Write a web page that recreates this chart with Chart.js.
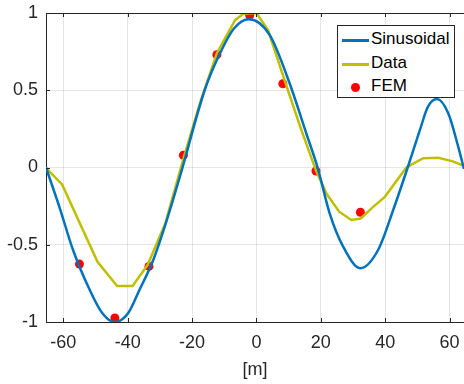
<!DOCTYPE html>
<html>
<head>
<meta charset="utf-8">
<script src="https://cdn.jsdelivr.net/npm/chart.js@4/dist/chart.umd.min.js"></script>
<style>
  html, body { margin: 0; padding: 0; background: #fff; }
  #wrap { position: relative; width: 464px; height: 384px; }
  #legend {
    position: absolute; left: 337px; top: 25px; width: 118px; height: 73px;
    background: #fff; border: 1px solid #262626; box-sizing: border-box;
    font-family: "Liberation Sans", Arial, sans-serif; font-size: 17px; color: #000;
  }
  .item { position: absolute; left: 0; height: 24px; width: 100%; }
  .item .sw { position: absolute; left: 4px; top: 11px; width: 27px; height: 0; border-top: 3px solid; }
  .item .dot { position: absolute; left: 13px; top: 8px; width: 9px; height: 9px; border-radius: 50%; }
  .item .tx { position: absolute; left: 33px; top: 1px; line-height: 20px; }
</style>
</head>
<body>
<div id="wrap">
  <canvas id="c" width="464" height="384"></canvas>
  <div id="legend"></div>
</div>
<script>
// ---- data ----
const sinX = [-65.4, -61.1, -57, -51.8, -48, -44, -39.9, -36.3, -32.1, -28, -23.8, -16.1, -12.3, -7, -2.3, 4.1, 10.3, 15.5, 19.0, 22.8, 26.9, 32.3, 37.8, 42.5, 47.0, 50.8, 53.3, 56.1, 59.6, 62.7, 64.5];
const sinY = [0, -0.264, -0.534, -0.793, -0.94, -1.0, -0.944, -0.79, -0.6, -0.35, -0.06, 0.5, 0.696, 0.9, 0.96, 0.858, 0.545, 0.22, 0, -0.30, -0.51, -0.652, -0.534, -0.275, 0, 0.243, 0.394, 0.443, 0.351, 0.135, -0.01];

const dataX = [-65.5, -60.4, -49.4, -43.3, -38.5, -33.8, -28.3, -22.8, -17.5, -12.3, -6.6, -4, 0, 3.6, 8.5, 13.5, 18.5, 21.8, 25.7, 29.5, 32.4, 36, 39.9, 46.6, 51.8, 56.5, 61, 64.5];
const dataY = [0, -0.11, -0.61, -0.767, -0.767, -0.63, -0.36, 0.05, 0.42, 0.74, 0.955, 0.995, 1.0, 0.89, 0.58, 0.27, -0.02, -0.17, -0.286, -0.34, -0.33, -0.26, -0.19, 0, 0.06, 0.063, 0.04, 0.01];

const femX = [-55.0, -44.0, -33.4, -22.7, -12.3, -2.1, 8.2, 18.5, 32.3];
const femY = [-0.625, -0.974, -0.64, 0.079, 0.73, 0.985, 0.542, -0.023, -0.29];

const xTicks = [-60, -40, -20, 0, 20, 40, 60];
const yTicks = [-1, -0.5, 0, 0.5, 1];
const seriesNames = ["Sinusoidal", "Data", "FEM"];
const xTitle = "[m]";

// ---- build ----
const pts = (xs, ys) => xs.map((x, i) => ({ x: x, y: ys[i] }));
const AX = '#262626';
const FONT = { family: '"Liberation Sans", Arial, sans-serif', size: 18 };

const frame = {
  id: 'frame',
  afterDraw(chart) {
    const { ctx, chartArea: a, scales } = chart;
    ctx.save();
    ctx.strokeStyle = AX; ctx.lineWidth = 1;
    ctx.beginPath();
    ctx.moveTo(a.left, a.top + 0.5); ctx.lineTo(a.right, a.top + 0.5);
    scales.x.ticks.forEach(t => {
      const px = Math.round(scales.x.getPixelForValue(t.value)) + 0.5;
      ctx.moveTo(px, a.bottom); ctx.lineTo(px, a.bottom - 4);
      ctx.moveTo(px, a.top); ctx.lineTo(px, a.top + 4);
    });
    scales.y.ticks.forEach(t => {
      const py = Math.round(scales.y.getPixelForValue(t.value)) + 0.5;
      ctx.moveTo(a.left, py); ctx.lineTo(a.left + 4, py);
    });
    ctx.stroke();
    ctx.restore();
  }
};

const chart = new Chart(document.getElementById('c'), {
  type: 'line',
  data: {
    datasets: [
      { label: seriesNames[0], data: pts(sinX, sinY), borderColor: '#0072BD', borderWidth: 2.5, pointRadius: 0, cubicInterpolationMode: 'monotone', fill: false },
      { label: seriesNames[1], data: pts(dataX, dataY), borderColor: '#BFBF00', borderWidth: 2.5, pointRadius: 0, tension: 0, fill: false },
      { label: seriesNames[2], data: pts(femX, femY), showLine: false, pointRadius: 4.5, pointBackgroundColor: '#FF0000', pointBorderWidth: 0, borderColor: '#FF0000' }
    ]
  },
  options: {
    responsive: false,
    devicePixelRatio: 1,
    animation: false,
    events: [],
    layout: { autoPadding: false, padding: { top: 13, left: 0, right: 0, bottom: 0 } },
    plugins: { legend: { display: false }, tooltip: { enabled: false } },
    scales: {
      x: {
        type: 'linear', min: -65.4, max: 64.5,
        afterFit(s) { s.height = 62; s.paddingLeft = 0; s.paddingRight = 0; },
        afterBuildTicks(s) { s.ticks = xTicks.map(v => ({ value: v })); },
        ticks: { includeBounds: false, color: AX, font: FONT, padding: 10, maxRotation: 0, autoSkip: false, callback: v => String(v) },
        grid: { color: 'rgba(0,0,0,0.1)', drawTicks: false },
        border: { color: AX, width: 1 },
        title: { display: true, text: xTitle, color: AX, font: FONT, padding: { top: 0, bottom: 3 } }
      },
      y: {
        type: 'linear', min: -1, max: 1,
        afterFit(s) { s.width = 46; s.paddingTop = 0; s.paddingBottom = 0; },
        afterBuildTicks(s) { s.ticks = yTicks.map(v => ({ value: v })); },
        ticks: { color: AX, font: FONT, padding: 8, callback: v => String(v) },
        grid: { color: 'rgba(0,0,0,0.1)', drawTicks: false },
        border: { color: AX, width: 1 }
      }
    }
  },
  plugins: [frame]
});

// legend (HTML text), built from datasets
const lg = document.getElementById('legend');
chart.data.datasets.forEach((ds, i) => {
  const it = document.createElement('div');
  it.className = 'item';
  it.style.top = (2 + i * 23.5) + 'px';
  const mark = document.createElement('div');
  if (ds.showLine === false) { mark.className = 'dot'; mark.style.background = ds.pointBackgroundColor; }
  else { mark.className = 'sw'; mark.style.borderColor = ds.borderColor; }
  const tx = document.createElement('div');
  tx.className = 'tx'; tx.textContent = ds.label;
  it.appendChild(mark); it.appendChild(tx);
  lg.appendChild(it);
});
</script>
</body>
</html>
